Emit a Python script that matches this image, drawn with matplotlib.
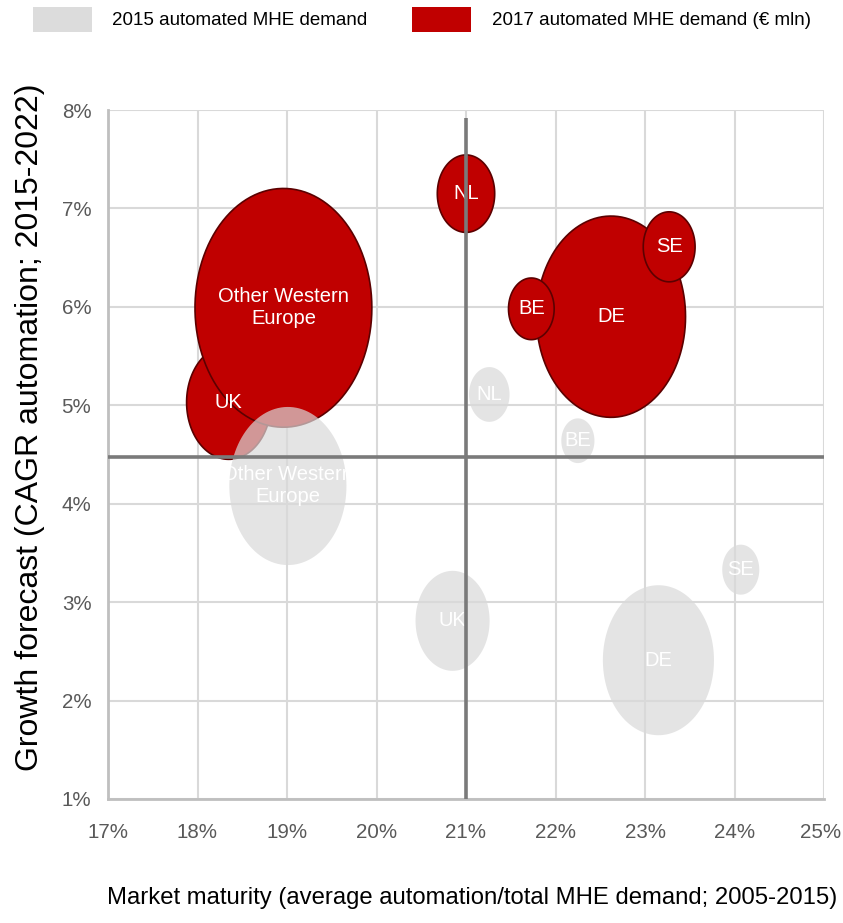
import numpy as np
import matplotlib
matplotlib.use("Agg")
import matplotlib.pyplot as plt
import matplotlib.ticker as ticker
import matplotlib.transforms as mtransforms
from matplotlib.path import Path
from matplotlib.patches import Patch

# Data (percent units)
labels_2015 = ["UK", "Other Western\nEurope", "NL", "BE", "SE", "DE"]
maturity_2015 = [20.85, 19.01, 21.26, 22.25, 24.07, 23.15]
growth_2015 = [2.81, 4.18, 5.11, 4.64, 3.33, 2.41]
demand_2015 = [100, 250, 30, 20, 25, 225]

labels_2017 = ["UK", "Other Western\nEurope", "DE", "BE", "SE", "NL"]
maturity_2017 = [18.35, 18.96, 22.62, 21.73, 23.27, 21.00]
growth_2017 = [5.03, 5.99, 5.90, 5.98, 6.61, 7.15]
demand_2017 = [130, 570, 405, 38, 49, 60]

avg_maturity = 21.0
avg_growth = 4.47

x_ticks = [17, 18, 19, 20, 21, 22, 23, 24, 25]
y_ticks = [1, 2, 3, 4, 5, 6, 7, 8]

SIZE_SCALE = 51.84  # points^2 per EUR mln
ASPECT = 1.35       # bubbles are drawn taller than wide

FONT = ["Liberation Sans", "DejaVu Sans"]


def main():
    plt.rcParams["font.family"] = FONT

    fig = plt.figure(figsize=(8.43, 9.23), dpi=100)
    ax = fig.add_axes([108 / 843, 1 - 799 / 923, 716 / 843, 689 / 923])

    t = np.linspace(0, 2 * np.pi, 120)
    ellipse = Path(np.column_stack([np.cos(t) / ASPECT, np.sin(t)]), closed=True)

    # 2017 bubbles (solid red)
    ax.scatter(maturity_2017, growth_2017,
               s=[v * SIZE_SCALE for v in demand_2017],
               marker=ellipse, color="#c00000", edgecolors="#5c0000",
               linewidths=1.2, zorder=2)
    for x, y, lab in zip(maturity_2017, growth_2017, labels_2017):
        ax.text(x, y, lab, color="white", fontsize=14.5, ha="center",
                va="center", zorder=3)

    # 2015 bubbles (translucent grey, on top)
    ax.scatter(maturity_2015, growth_2015,
               s=[v * SIZE_SCALE for v in demand_2015],
               marker=ellipse, color="#d9d9d9", alpha=0.7,
               linewidths=0, zorder=4)
    for x, y, lab in zip(maturity_2015, growth_2015, labels_2015):
        ax.text(x, y, lab, color="white", fontsize=14.5, ha="center",
                va="center", zorder=5)

    # Quadrant lines
    ax.axhline(avg_growth, color="#7a7a7a", linewidth=2.6, zorder=6)
    ax.plot([avg_maturity, avg_maturity], [1, 7.92], color="#7a7a7a",
            linewidth=2.6, zorder=6, solid_capstyle="butt")

    # Axes formatting
    ax.set_xlim(17, 25)
    ax.set_ylim(1, 8)
    ax.set_xticks(x_ticks)
    ax.set_yticks(y_ticks)
    ax.xaxis.set_major_formatter(ticker.FuncFormatter(lambda v, p: f"{v:.0f}%"))
    ax.yaxis.set_major_formatter(ticker.FuncFormatter(lambda v, p: f"{v:.0f}%"))
    ax.tick_params(length=0, labelsize=14.8, colors="#595959")
    ax.tick_params(axis="x", pad=17)
    ax.tick_params(axis="y", pad=12)

    # nudge the last x label inward so it stays inside the figure
    last = ax.get_xticklabels()[-1]
    last.set_transform(last.get_transform() + mtransforms.ScaledTranslation(
        -3 / 100, 0, fig.dpi_scale_trans))

    ax.grid(True, color="#d9d9d9", linewidth=1.5, zorder=0)
    ax.set_axisbelow(True)
    for side in ("top", "right"):
        ax.spines[side].set_visible(False)
    for side in ("left", "bottom"):
        ax.spines[side].set_color("#bfbfbf")
        ax.spines[side].set_linewidth(2)

    ax.set_xlabel("Market maturity (average automation/total MHE demand; 2005-2015)",
                  fontsize=17.2, color="black")
    ax.xaxis.set_label_coords(0.508, -0.128)
    ax.set_ylabel("Growth forecast (CAGR automation; 2015-2022)",
                  fontsize=23, color="black")
    ax.yaxis.set_label_coords(-0.088, 0.539)

    # Legend
    handles = [Patch(facecolor="#dcdcdc", edgecolor="none"),
               Patch(facecolor="#c00000", edgecolor="none")]
    fig.legend(handles, ["2015 automated MHE demand",
                         "2017 automated MHE demand (€ mln)"],
               loc="upper left", bbox_to_anchor=(33 / 843, 1 - 7 / 923),
               ncol=2, frameon=False, fontsize=13.5, borderpad=0,
               borderaxespad=0, handlelength=3.15, handleheight=1.65,
               handletextpad=1.07, columnspacing=2.4)

    fig.savefig("out.png", dpi=100, facecolor="white")
    plt.close(fig)


if __name__ == "__main__":
    main()
